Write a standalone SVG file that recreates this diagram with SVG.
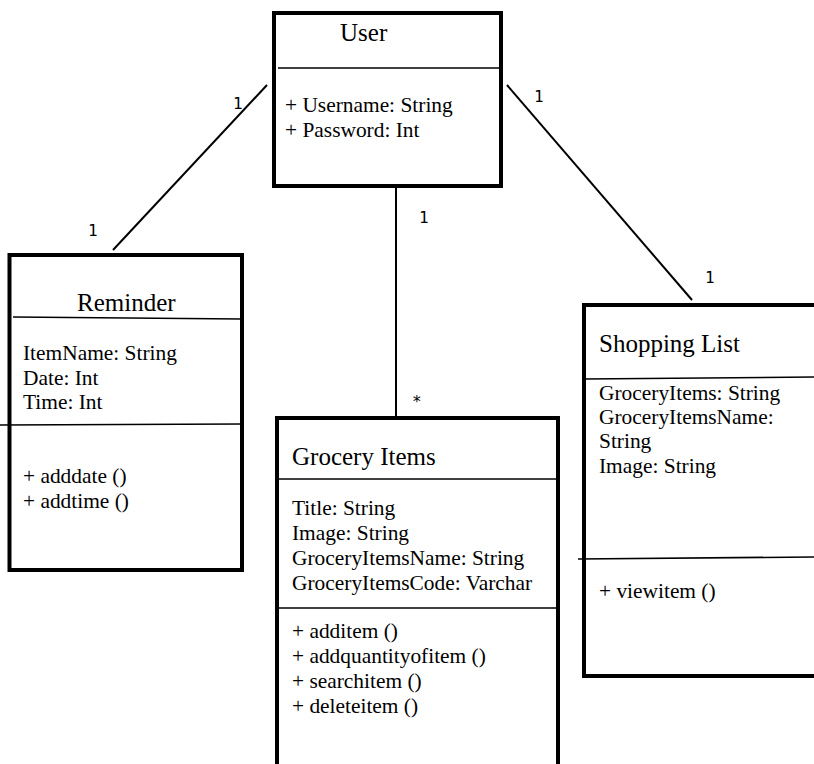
<svg xmlns="http://www.w3.org/2000/svg" width="814" height="764" viewBox="0 0 814 764">
<style>
.box{fill:none;stroke:#000;stroke-width:4}
.div{stroke:#000;stroke-width:1.6;fill:none}
.conn{stroke:#000;stroke-width:2;fill:none}
.title{font-family:"Liberation Serif","Times New Roman",serif;font-size:25px;fill:#000}
.txt{font-family:"Liberation Serif","Times New Roman",serif;font-size:21.4px;fill:#000}
.lbl{font-family:"DejaVu Sans Mono","Liberation Mono",monospace;font-size:16px;fill:#000}
</style>
<rect width="814" height="764" fill="#fff"/>
<g id="connectors">
<line class="conn" x1="267" y1="85" x2="113" y2="250"/>
<line class="conn" x1="507" y1="85" x2="692" y2="300"/>
<line class="conn" x1="396" y1="187" x2="396" y2="418"/>
<text class="lbl" x="233" y="109">1</text>
<text class="lbl" x="88" y="236">1</text>
<text class="lbl" x="534" y="102">1</text>
<text class="lbl" x="705" y="283">1</text>
<text class="lbl" x="419" y="223">1</text>
<text class="lbl" x="412" y="407">*</text>
</g>
<g id="user">
<rect class="box" x="274" y="13" width="227" height="173"/>
<line class="div" x1="278" y1="68" x2="502" y2="68"/>
<text class="title" x="340" y="41">User</text>
<text class="txt" x="285" y="112">+ Username: String</text>
<text class="txt" x="285" y="137">+ Password: Int</text>
</g>
<g id="reminder">
<rect class="box" x="9.5" y="255" width="232.5" height="315"/>
<line class="div" x1="13" y1="317" x2="242" y2="319"/>
<line class="div" x1="0" y1="425" x2="242" y2="424"/>
<text class="title" x="77" y="311">Reminder</text>
<text class="txt" x="23" y="360">ItemName: String</text>
<text class="txt" x="23" y="385">Date: Int</text>
<text class="txt" x="23" y="409">Time: Int</text>
<text class="txt" x="23" y="483">+ adddate ()</text>
<text class="txt" x="23" y="508">+ addtime ()</text>
</g>
<g id="grocery">
<rect class="box" x="277" y="418" width="281" height="400"/>
<line class="div" x1="277" y1="479" x2="558" y2="479"/>
<line class="div" x1="277" y1="608" x2="558" y2="608"/>
<text class="title" x="292" y="465">Grocery Items</text>
<text class="txt" x="292" y="515">Title: String</text>
<text class="txt" x="292" y="540">Image: String</text>
<text class="txt" x="292" y="565">GroceryItemsName: String</text>
<text class="txt" x="292" y="590">GroceryItemsCode: Varchar</text>
<text class="txt" x="292" y="638">+ additem ()</text>
<text class="txt" x="292" y="663">+ addquantityofitem ()</text>
<text class="txt" x="292" y="688">+ searchitem ()</text>
<text class="txt" x="292" y="713">+ deleteitem ()</text>
</g>
<g id="shopping">
<rect class="box" x="584" y="305" width="260" height="371"/>
<line class="div" x1="584" y1="379" x2="814" y2="377"/>
<line class="div" x1="578" y1="559" x2="814" y2="557"/>
<text class="title" x="599" y="352">Shopping List</text>
<text class="txt" x="599" y="400">GroceryItems: String</text>
<text class="txt" x="599" y="424">GroceryItemsName:</text>
<text class="txt" x="599" y="448">String</text>
<text class="txt" x="599" y="473">Image: String</text>
<text class="txt" x="599" y="598">+ viewitem ()</text>
</g>
</svg>
